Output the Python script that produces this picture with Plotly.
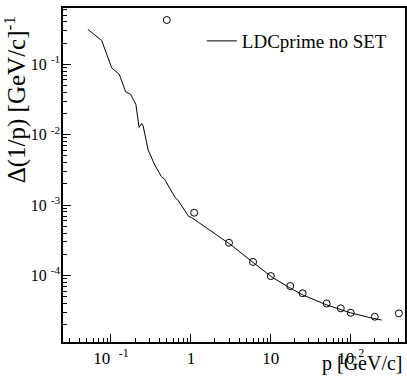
import plotly.graph_objects as go

# ---- data ----
curve_p = [0.0514, 0.0767, 0.102, 0.127, 0.153, 0.176, 0.205, 0.215, 0.225, 0.242,
           0.253, 0.292, 0.353, 0.428, 0.47, 0.553, 0.644, 0.688, 0.834, 0.944,
           1.01, 3.18, 6.2, 10.4, 17.7, 25.2, 50.5, 98.9, 167, 244]
curve_dp = [0.314, 0.217, 0.0895, 0.0721, 0.0408, 0.0375, 0.027, 0.019, 0.0127, 0.0145,
            0.0133, 0.00607, 0.00372, 0.00254, 0.00233, 0.00168, 0.00125, 0.00118, 8.53e-4, 6.85e-4,
            6.72e-4, 2.72e-4, 1.49e-4, 9.45e-5, 6.59e-5, 5.29e-5, 3.81e-5, 2.96e-5, 2.55e-5, 2.33e-5]

circ_p = [0.5, 1.1, 3, 6, 10, 17.5, 25, 50, 75, 100, 200, 400]
circ_dp = [0.426, 7.8e-4, 2.92e-4, 1.56e-4, 9.84e-5, 7.1e-5, 5.6e-5, 4.0e-5, 3.42e-5, 2.96e-5, 2.6e-5, 2.9e-5]

x_tickvals = [0.1, 1, 10, 100]
x_ticktext = ["10\u2002<sup>-1</sup>", "1", "10", "10\u00a0<sup>2</sup>"]
y_tickvals = [1e-1, 1e-2, 1e-3, 1e-4]
y_ticktext = ["10\u00a0<sup>-1</sup>", "10\u00a0<sup>-2</sup>",
              "10\u00a0<sup>-3</sup>", "10\u00a0<sup>-4</sup>"]

series_name = "LDCprime no SET"
x_title = "p [GeV/c]"
y_title = "\u0394(1/p) [GeV/c]<sup>-1</sup>"

FONT = "Liberation Serif, Times New Roman, serif"

minor_x = [m * 10 ** k for k in range(-2, 3) for m in range(2, 10)]
minor_y = [m * 10 ** k for k in range(-5, 0) for m in range(2, 10)]

fig = go.Figure()
fig.add_trace(go.Scatter(x=curve_p, y=curve_dp, mode="lines", name=series_name,
                         line=dict(color="black", width=1), showlegend=True))
fig.add_trace(go.Scatter(x=circ_p, y=circ_dp, mode="markers", showlegend=False,
                         marker=dict(symbol="circle-open", size=7, color="black",
                                     line=dict(width=1, color="black"))))

fig.update_layout(
    width=407, height=381,
    margin=dict(l=63, r=0, t=8, b=39),
    paper_bgcolor="white", plot_bgcolor="white",
    font=dict(family=FONT, color="black", size=17),
    showlegend=True,
    legend=dict(x=0.406, y=0.958, xanchor="left", yanchor="top",
                bgcolor="rgba(0,0,0,0)", font=dict(size=19, family=FONT)),
)
fig.update_xaxes(type="log", range=[-1.6, 2.679], showgrid=False, zeroline=False,
                 showline=True, linecolor="black", linewidth=1.5, mirror=True,
                 ticks="inside", ticklen=8, tickcolor="black", tickwidth=1,
                 tickvals=x_tickvals, ticktext=x_ticktext,
                 tickfont=dict(size=17, family=FONT),
                 minor=dict(ticks="inside", ticklen=4, tickcolor="black",
                            tickvals=minor_x, showgrid=False))
fig.update_yaxes(type="log", range=[-4.944, -0.2], showgrid=False, zeroline=False,
                 showline=True, linecolor="black", linewidth=1.5, mirror=True,
                 ticks="inside", ticklen=8, tickcolor="black", tickwidth=1,
                 tickvals=y_tickvals, ticktext=y_ticktext,
                 tickfont=dict(size=16, family=FONT), ticklabelstandoff=-2,
                 minor=dict(ticks="inside", ticklen=4, tickcolor="black",
                            tickvals=minor_y, showgrid=False))

fig.add_annotation(text=x_title, xref="paper", yref="paper", x=1.0, y=-0.024,
                   xanchor="right", yanchor="top", showarrow=False,
                   font=dict(size=20, family=FONT))
fig.add_annotation(text=y_title, xref="paper", yref="paper", x=-0.14, y=0.98,
                   xanchor="center", yanchor="top", textangle=-90, showarrow=False,
                   font=dict(size=25, family=FONT))

fig.write_html("out.html")
